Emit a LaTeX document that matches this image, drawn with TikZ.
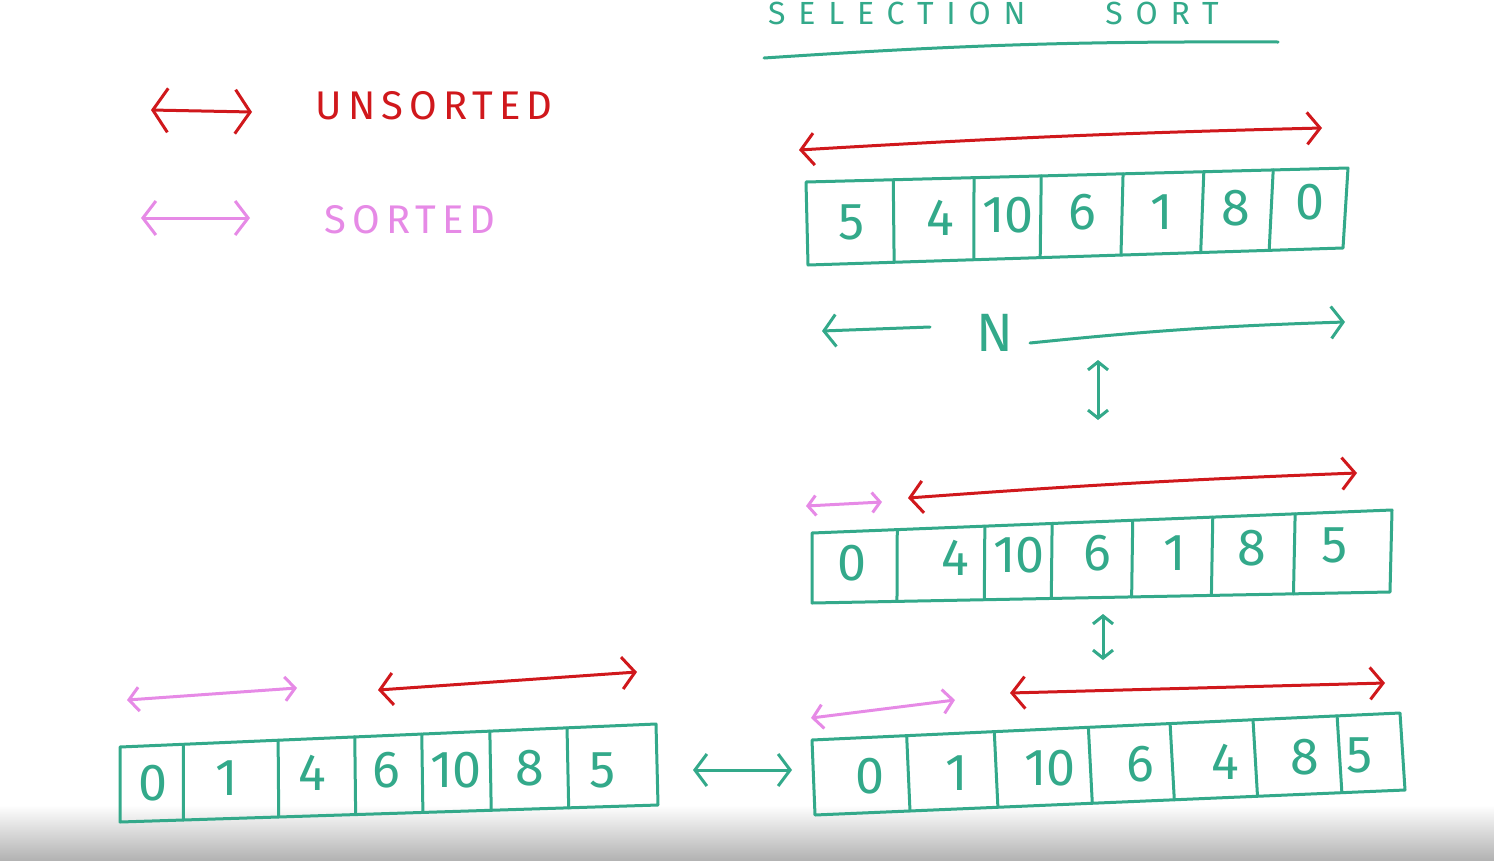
\documentclass[tikz,border=0pt]{standalone}
\usepackage{fontspec}
\setmainfont{Fira Sans}
\usetikzlibrary{arrows.meta,calc}
\definecolor{teal1}{HTML}{33A98A}
\definecolor{red1}{HTML}{D0181C}
\definecolor{pink1}{HTML}{E68AE6}
\newcommand\dividers[2]{%
  \foreach \f in {#2} {\draw[tealink] ($(#1TL)!\f!(#1TR)$) -- ($(#1BL)!\f!(#1BR)$);}%
}
\begin{document}
\begin{tikzpicture}[x=1pt,y=-1pt,line cap=round,line join=round,
  ink/.style={line width=3pt},
  tealink/.style={ink,draw=teal1},
  redarrow/.style={ink,draw=red1,{Straight Barb[length=13pt,width=32pt]}-{Straight Barb[length=13pt,width=32pt]}},
  pinkarrow/.style={ink,draw=pink1,{Straight Barb[length=10pt,width=24pt]}-{Straight Barb[length=10pt,width=24pt]}},
  tealarrow/.style={ink,draw=teal1,{Straight Barb[length=12pt,width=32pt]}-{Straight Barb[length=12pt,width=32pt]}},
  smallarrow/.style={ink,draw=teal1,{Straight Barb[length=8pt,width=20pt]}-{Straight Barb[length=8pt,width=20pt]}},
  num/.style={text=teal1,font=\fontsize{52}{52}\selectfont},
  label/.style={font=\fontsize{40}{40}\selectfont\addfontfeature{LetterSpace=15}}]
\useasboundingbox (0,0) rectangle (1494,860);
\shade[top color=white,bottom color=black!30] (0,805) rectangle (1494,860);

% title
\node[text=teal1,anchor=north west,font=\fontsize{32}{32}\selectfont\addfontfeature{LetterSpace=40},inner sep=0pt] (title) at (768,2) {SELECTION\hspace{80pt}SORT};
\coordinate (ulA) at (764,58);
\coordinate (ulB) at (1278,42);
\draw[tealink] (ulA) to[bend left=2] (ulB);

% legend
\coordinate (lgRa) at (151,110); \coordinate (lgRb) at (252,112);
\draw[ink,draw=red1,{Straight Barb[length=15pt,width=44pt]}-{Straight Barb[length=15pt,width=44pt]}] (lgRa) -- (lgRb);
\node[label,text=red1] (unsorted) at (434,106) {UNSORTED};
\coordinate (lgPa) at (141,218); \coordinate (lgPb) at (250,218);
\draw[ink,draw=pink1,{Straight Barb[length=13pt,width=34pt]}-{Straight Barb[length=13pt,width=34pt]}] (lgPa) -- (lgPb);
\node[label,text=pink1] (sorted) at (410,220) {SORTED};

% array 1
\coordinate (aTL) at (806,182); \coordinate (aTR) at (1348,168);
\coordinate (aBR) at (1343,248); \coordinate (aBL) at (808,265);
\draw[tealink] (aTL) -- (aTR) -- (aBR) -- (aBL) -- cycle;
\dividers{a}{0.161,0.310,0.434,0.585,0.734,0.862}
\node[num] (a1) at (852,222) {5};
\node[num] (a2) at (940,218) {4};
\node[num] (a3) at (1008,215) {10};
\node[num] (a4) at (1082,212) {6};
\node[num] (a5) at (1162,212) {1};
\node[num] (a6) at (1236,208) {8};
\node[num] (a7) at (1310,202) {0};
\coordinate (aRa) at (799,150); \coordinate (aRb) at (1322,128);
\draw[redarrow] (aRa) to[bend left=1] (aRb);

% N
\node[text=teal1,font=\fontsize{54}{54}\selectfont] (N) at (995,333) {N};
\coordinate (nA) at (930,327); \coordinate (nL) at (822,331);
\coordinate (nB) at (1030,343); \coordinate (nR) at (1345,322);
\draw[ink,draw=teal1,-{Straight Barb[length=12pt,width=32pt]}] (nA) -- (nL);
\draw[ink,draw=teal1,-{Straight Barb[length=12pt,width=32pt]}] (nB) to[bend left=2] (nR);
\coordinate (v1a) at (1098,360); \coordinate (v1b) at (1098,420);
\draw[smallarrow] (v1a) -- (v1b);

% array 2
\coordinate (bTL) at (812,533); \coordinate (bTR) at (1392,510);
\coordinate (bBR) at (1390,592); \coordinate (bBL) at (812,603);
\draw[tealink] (bTL) -- (bTR) -- (bBR) -- (bBL) -- cycle;
\dividers{b}{0.147,0.298,0.414,0.553,0.691,0.833}
\node[num] (b1) at (852,563) {0};
\node[num] (b2) at (955,558) {4};
\node[num] (b3) at (1019,555) {10};
\node[num] (b4) at (1097,553) {6};
\node[num] (b5) at (1175,553) {1};
\node[num] (b6) at (1252,548) {8};
\node[num] (b7) at (1335,545) {5};
\coordinate (bPa) at (806,506); \coordinate (bPb) at (882,502);
\draw[ink,draw=pink1,{Straight Barb[length=8pt,width=20pt]}-{Straight Barb[length=8pt,width=20pt]}] (bPa) -- (bPb);
\coordinate (bRa) at (908,498); \coordinate (bRb) at (1357,473);
\draw[redarrow] (bRa) to[bend left=1] (bRb);
\coordinate (v2a) at (1103,614); \coordinate (v2b) at (1103,660);
\draw[smallarrow] (v2a) -- (v2b);

% array 3
\coordinate (cTL) at (812,740); \coordinate (cTR) at (1400,713);
\coordinate (cBR) at (1405,790); \coordinate (cBL) at (815,815);
\draw[tealink] (cTL) -- (cTR) -- (cBR) -- (cBL) -- cycle;
\dividers{c}{0.161,0.310,0.470,0.609,0.750,0.893}
\node[num] (c1) at (870,776) {0};
\node[num] (c2) at (957,773) {1};
\node[num] (c3) at (1050,768) {10};
\node[num] (c4) at (1140,764) {6};
\node[num] (c5) at (1225,762) {4};
\node[num] (c6) at (1305,757) {8};
\node[num] (c7) at (1360,755) {5};
\coordinate (cPa) at (811,718); \coordinate (cPb) at (955,700);
\draw[pinkarrow] (cPa) -- (cPb);
\coordinate (cRa) at (1010,693); \coordinate (cRb) at (1385,683);
\draw[redarrow] (cRa) -- (cRb);

% array 4
\coordinate (dTL) at (120,747); \coordinate (dTR) at (656,724);
\coordinate (dBR) at (658,805); \coordinate (dBL) at (120,822);
\draw[tealink] (dTL) -- (dTR) -- (dBR) -- (dBL) -- cycle;
\dividers{d}{0.118,0.295,0.438,0.563,0.690,0.834}
\node[num] (d1) at (153,783) {0};
\node[num] (d2) at (227,778) {1};
\node[num] (d3) at (312,773) {4};
\node[num] (d4) at (386,770) {6};
\node[num] (d5) at (456,770) {10};
\node[num] (d6) at (530,768) {8};
\node[num] (d7) at (603,770) {5};
\coordinate (dPa) at (127,700); \coordinate (dPb) at (297,688);
\draw[pinkarrow] (dPa) -- (dPb);
\coordinate (dRa) at (378,690); \coordinate (dRb) at (637,672);
\draw[redarrow] (dRa) -- (dRb);

% swap arrow between arrays
\coordinate (hA) at (693,770); \coordinate (hB) at (792,770);
\draw[tealarrow] (hA) -- (hB);
\end{tikzpicture}
\end{document}
